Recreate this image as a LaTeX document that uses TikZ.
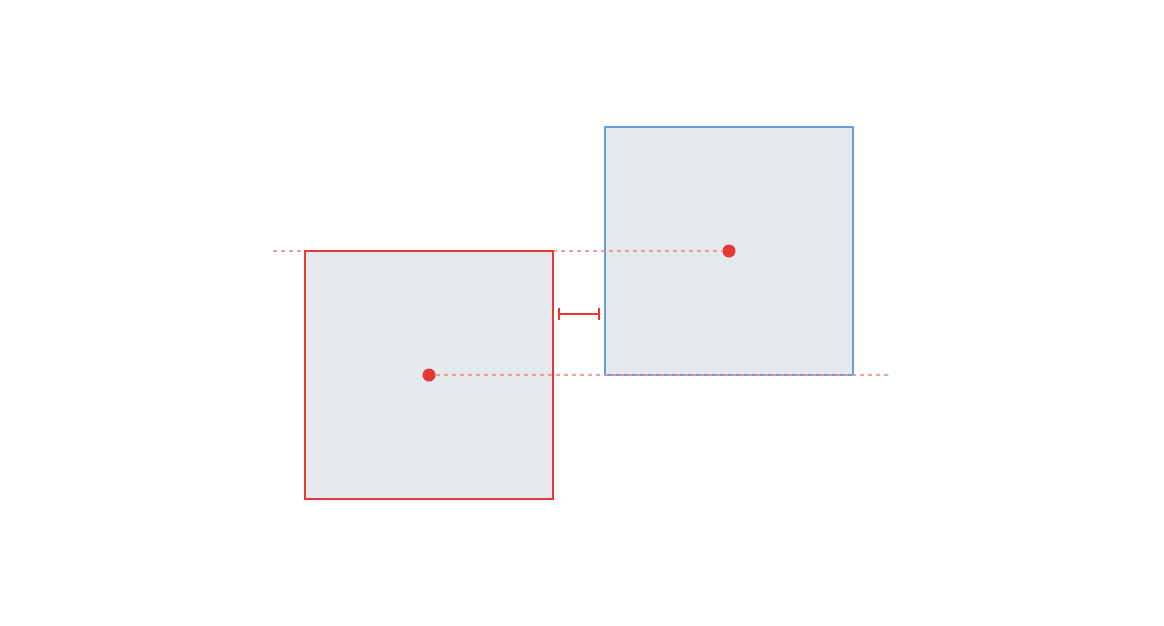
\documentclass[tikz,border=0pt]{standalone}
\usepackage{tikz}
\usetikzlibrary{arrows.meta,calc}
\definecolor{boxfill}{RGB}{229,232,236}
\definecolor{markred}{RGB}{229,57,53}
\definecolor{boxblue}{RGB}{104,157,214}
\definecolor{guidered}{RGB}{239,146,146}

\begin{document}
\begin{tikzpicture}[x=1pt,y=-1pt,
  square/.style={draw,fill=boxfill,line width=2pt,minimum size=248pt,inner sep=0pt,outer sep=0pt},
  guide/.style={draw=guidered,opacity=0.9,line width=1.3pt,dash pattern=on 4pt off 4pt},
  dot/.style={circle,fill=markred,minimum size=13pt,inner sep=0pt,outer sep=0pt}]
\useasboundingbox (0,0) rectangle (1164,626);
\node[square,draw=boxblue] (target) at (729,251) {};
\node[dot] (tdot) at (target.center) {};
\coordinate (gleft) at (273,251);
\draw[guide] (gleft) -- (tdot);
\node[square,draw=markred] (moved) at (429,375) {};
\node[dot] (mdot) at (moved.center) {};
\coordinate (gright) at (889,375);
\draw[guide] (mdot) -- (gright);
\coordinate (gapl) at ($(moved.north east)+(5,63)$);
\coordinate (gapr) at ($(target.south west)+(-5,-61)$);
\draw[markred,line width=1.5pt,{Bar[width=12pt,line width=1.8pt]}-{Bar[width=12pt,line width=1.8pt]}] (gapl) -- (gapr);
\end{tikzpicture}
\end{document}
